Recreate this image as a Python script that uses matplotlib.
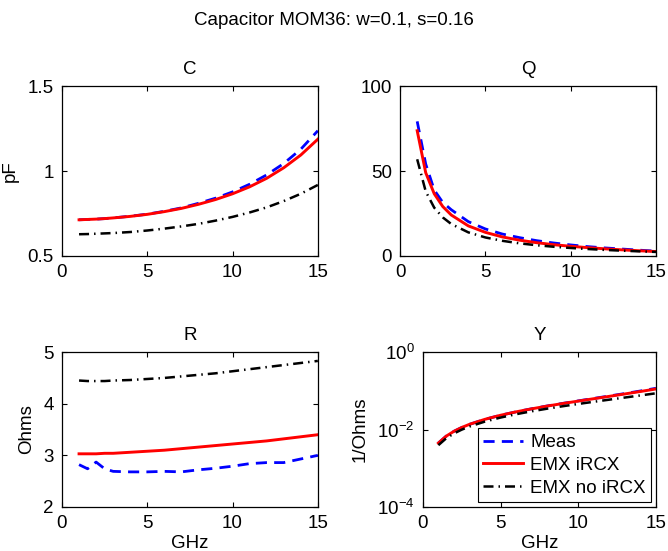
import matplotlib
matplotlib.use("Agg")
import matplotlib.pyplot as plt
from matplotlib.ticker import FixedLocator, FormatStrFormatter, NullLocator

plt.rcParams['font.family'] = ['Liberation Sans', 'DejaVu Sans']
plt.rcParams['mathtext.fontset'] = 'custom'
plt.rcParams['mathtext.rm'] = 'Liberation Sans'
plt.rcParams['mathtext.it'] = 'Liberation Sans'
plt.rcParams['font.size'] = 13.5

freq = [1, 1.5, 2, 2.5, 3, 4, 5, 6, 7, 8, 9, 10, 11, 12, 13, 14, 15]

# C (pF)
c_meas = [0.713, 0.715, 0.717, 0.720, 0.724, 0.734, 0.746, 0.763, 0.783,
          0.810, 0.840, 0.877, 0.922, 0.977, 1.044, 1.128, 1.237]
c_emx = [0.713, 0.715, 0.717, 0.720, 0.724, 0.733, 0.745, 0.761, 0.780,
         0.804, 0.832, 0.866, 0.907, 0.957, 1.019, 1.094, 1.187]
c_noircx = [0.628, 0.629, 0.631, 0.633, 0.635, 0.641, 0.650, 0.661, 0.674,
            0.689, 0.708, 0.730, 0.756, 0.786, 0.823, 0.866, 0.918]

# Q
q_meas = [79.2, 54.1, 38.8, 31.5, 27.2, 20.2, 15.9, 12.9, 10.8,
          9.03, 7.66, 6.51, 5.52, 4.75, 4.10, 3.44, 2.86]
q_emx = [73.7, 49.0, 36.6, 29.1, 24.1, 17.7, 13.9, 11.2, 9.31,
         7.83, 6.66, 5.71, 4.91, 4.23, 3.62, 3.09, 2.63]
q_noircx = [56.9, 38.0, 28.4, 22.7, 18.8, 13.9, 10.9, 8.92, 7.45,
            6.33, 5.44, 4.71, 4.10, 3.58, 3.13, 2.74, 2.39]

# R (Ohms)
r_meas = [2.82, 2.74, 2.87, 2.74, 2.69, 2.68, 2.68, 2.69, 2.68,
          2.72, 2.75, 2.79, 2.84, 2.86, 2.86, 2.93, 3.00]
r_emx = [3.03, 3.03, 3.03, 3.04, 3.04, 3.06, 3.08, 3.10, 3.13,
         3.16, 3.19, 3.22, 3.25, 3.28, 3.32, 3.36, 3.40]
r_noircx = [4.45, 4.44, 4.44, 4.44, 4.45, 4.46, 4.48, 4.50, 4.53,
            4.56, 4.59, 4.63, 4.67, 4.71, 4.75, 4.79, 4.83]

# Y (1/Ohms)
y_meas = [0.00448, 0.00674, 0.00901, 0.01131, 0.01365, 0.01845, 0.02344, 0.02876, 0.03444,
          0.04072, 0.04750, 0.05510, 0.06373, 0.07366, 0.08527, 0.09922, 0.1166]
y_emx = [0.00448, 0.00674, 0.00901, 0.01131, 0.01365, 0.01842, 0.02341, 0.02869, 0.03430,
         0.04042, 0.04705, 0.05441, 0.06269, 0.07216, 0.08323, 0.09623, 0.1119]
y_noircx = [0.00395, 0.00593, 0.00793, 0.00994, 0.01197, 0.01611, 0.02042, 0.02492, 0.02964,
            0.03464, 0.04004, 0.04587, 0.05225, 0.05926, 0.06722, 0.07617, 0.08652]

labels = ['Meas', 'EMX iRCX', 'EMX no iRCX']


def draw(ax, a, b, c):
    ax.plot(freq, a, color='#0000ff', lw=2, dashes=(4, 2.6))
    ax.plot(freq, b, color='#ff0000', lw=2.1)
    ax.plot(freq, c, color='black', lw=1.8, dashes=(4, 2, 0.6, 2))
    ax.set_xlim(0, 15)
    ax.xaxis.set_major_locator(FixedLocator([0, 5, 10, 15]))
    ax.tick_params(direction='in', top=True, right=True, length=3.5, width=0.8, pad=6)
    for s in ax.spines.values():
        s.set_linewidth(0.9)


fig = plt.figure(figsize=(6.68, 5.51), dpi=100)

ax1 = fig.add_axes([0.0928, 0.5354, 0.383, 0.3085])
draw(ax1, c_meas, c_emx, c_noircx)
ax1.set_ylim(0.5, 1.5)
ax1.yaxis.set_major_locator(FixedLocator([0.5, 1, 1.5]))
ax1.yaxis.set_major_formatter(FormatStrFormatter('%g'))
ax1.set_title('C', pad=9, fontsize=13.5)
ax1.set_ylabel('pF', labelpad=6)

ax2 = fig.add_axes([0.599, 0.5354, 0.383, 0.3085])
draw(ax2, q_meas, q_emx, q_noircx)
ax2.set_ylim(0, 100)
ax2.yaxis.set_major_locator(FixedLocator([0, 50, 100]))
ax2.set_title('Q', pad=9, fontsize=13.5)

ax3 = fig.add_axes([0.0928, 0.0799, 0.383, 0.281])
draw(ax3, r_meas, r_emx, r_noircx)
ax3.set_ylim(2, 5)
ax3.yaxis.set_major_locator(FixedLocator([2, 3, 4, 5]))
ax3.set_title('R', pad=9, fontsize=13.5)
ax3.set_ylabel('Ohms', labelpad=6)
ax3.set_xlabel('GHz', labelpad=2)

ax4 = fig.add_axes([0.633, 0.0799, 0.349, 0.281])
draw(ax4, y_meas, y_emx, y_noircx)
ax4.set_yscale('log')
ax4.set_ylim(1e-4, 1)
ax4.yaxis.set_major_locator(FixedLocator([1e-4, 1e-2, 1]))
ax4.yaxis.set_minor_locator(NullLocator())
ax4.set_title('Y', pad=9, fontsize=13.5)
ax4.set_ylabel('1/Ohms', labelpad=6)
ax4.set_xlabel('GHz', labelpad=2)
leg = ax4.legend(labels, loc='lower right', fancybox=False, edgecolor='black',
                 framealpha=1, borderaxespad=0.25, borderpad=0.3,
                 labelspacing=0.3, handlelength=2.1, handletextpad=0.4)
leg.get_frame().set_linewidth(0.8)

fig.suptitle('Capacitor MOM36: w=0.1, s=0.16', y=0.978, fontsize=13.5)

fig.savefig('out.png', dpi=100)
